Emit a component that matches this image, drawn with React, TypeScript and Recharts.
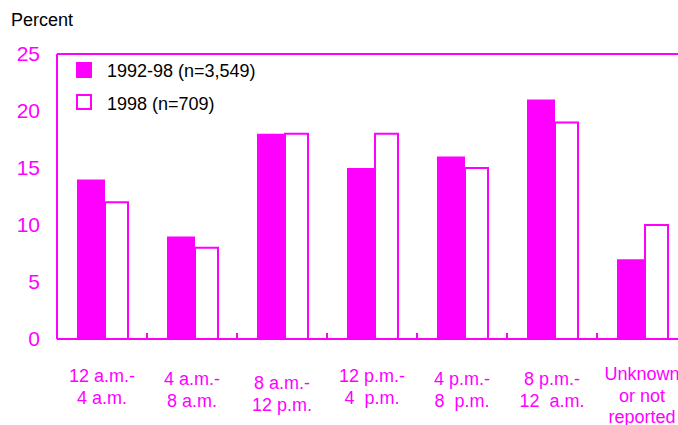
import { Bar, BarChart, ReferenceLine, XAxis, YAxis } from "recharts";

const categories = [
  "12 a.m.-|4 a.m.",
  "4 a.m.-|8 a.m.",
  "8 a.m.-|12 p.m.",
  "12 p.m.-|4  p.m.",
  "4 p.m.-|8  p.m.",
  "8 p.m.-|12  a.m.",
  "Unknown|or not|reported",
];
const period9298 = [14, 9, 18, 15, 16, 21, 7];
const year1998 = [12, 8, 18, 18, 15, 19, 10];
const yTicks = [0, 5, 10, 15, 20, 25];

const MAGENTA = "#FF00FF";
const FONT = "'Liberation Sans', Arial, sans-serif";
// staggered label heights in the original
const labelShift = [0, 3, 7, 0, 3, 3, -2];

const data = categories.map((name, i) => ({
  name,
  a: period9298[i],
  b: year1998[i],
}));

function CategoryTick(props: any) {
  const { x, y, payload, index } = props;
  const lines = String(payload.value).split("|");
  const half = payload.offset ?? 45;
  const base = y + 43 + (labelShift[index] ?? 0);
  return (
    <g>
      {index < categories.length - 1 && (
        <line x1={x + half} x2={x + half} y1={y} y2={y - 6} stroke={MAGENTA} strokeWidth={2} />
      )}
      <text
        x={x}
        y={base}
        textAnchor="middle"
        fill={MAGENTA}
        fontSize={18}
        fontFamily={FONT}
        style={{ whiteSpace: "pre" }}
      >
        {lines.map((l, i) => (
          <tspan key={i} x={x} y={base + i * 21.5}>
            {l}
          </tspan>
        ))}
      </text>
    </g>
  );
}

function LegendBox() {
  return (
    <svg width={220} height={52} style={{ display: "block" }}>
      <rect x={0} y={0} width={16} height={16} fill={MAGENTA} />
      <rect x={1} y={33} width={14} height={14} fill="#fff" stroke={MAGENTA} strokeWidth={2} />
      <text x={31} y={15} fontSize={18} fontFamily={FONT} fill="#000">
        1992-98 (n=3,549)
      </text>
      <text x={31} y={48} fontSize={18} fontFamily={FONT} fill="#000">
        1998 (n=709)
      </text>
    </svg>
  );
}

export default function App() {
  return (
    <div
      style={{
        position: "fixed",
        left: 0,
        top: 0,
        width: 678,
        height: 425,
        overflow: "hidden",
        background: "#fff",
      }}
    >
      <div
        style={{
          position: "absolute",
          left: 11,
          top: 10,
          fontFamily: FONT,
          fontSize: 18,
          color: "#000",
          zIndex: 2,
        }}
      >
        Percent
      </div>
      <div style={{ position: "absolute", left: 76, top: 62, zIndex: 2 }}>
        <LegendBox />
      </div>
      <BarChart
        width={710}
        height={425}
        data={data}
        margin={{ top: 54, right: 23, bottom: 0, left: 0 }}
        barGap={0}
      >
        <XAxis
          dataKey="name"
          height={86}
          interval={0}
          tickSize={0}
          tickMargin={0}
          tickLine={false}
          axisLine={{ stroke: MAGENTA, strokeWidth: 2 }}
          tick={<CategoryTick />}
        />
        <YAxis
          width={57}
          domain={[0, 25]}
          ticks={yTicks}
          interval={0}
          tickSize={0}
          tickMargin={17}
          tickLine={false}
          axisLine={{ stroke: MAGENTA, strokeWidth: 2 }}
          tick={{ fill: MAGENTA, fontSize: 21, fontFamily: FONT }}
        />
        <ReferenceLine y={25} stroke={MAGENTA} strokeWidth={2} />
        <Bar dataKey="a" name="1992-98 (n=3,549)" fill={MAGENTA} barSize={28} isAnimationActive={false} />
        <Bar
          dataKey="b"
          name="1998 (n=709)"
          fill="#fff"
          stroke={MAGENTA}
          strokeWidth={2}
          barSize={23}
          isAnimationActive={false}
        />
      </BarChart>
    </div>
  );
}
